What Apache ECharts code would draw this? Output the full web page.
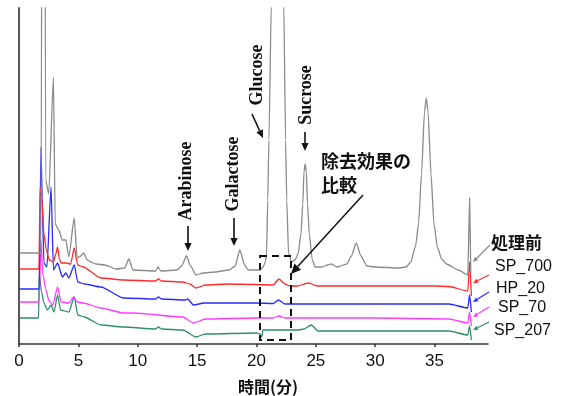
<!DOCTYPE html>
<html>
<head>
<meta charset="utf-8">
<script src="https://cdn.jsdelivr.net/npm/echarts@6/dist/echarts.min.js"></script>
<style>
html,body{margin:0;padding:0;background:#fff;}
#chart{width:562px;height:396px;}
</style>
</head>
<body>
<div id="chart"></div>
<script>
// ---- data: retention time (min), detector signal (arbitrary units) ----
const seriesNames = ['処理前', 'SP_700', 'HP_20', 'SP_70', 'SP_207'];
const seriesColors = ['#8a8a8a', '#ff2a2a', '#2a2aff', '#ff3cff', '#2f8f6a'];

const untreated = [
  [0,91],[1.68,91],[1.85,91],[2.05,1200],[2.25,164],[2.5,150],[2.9,267],[3.05,120],[3.35,114],
  [3.65,104],[3.95,104],[4.2,87],[4.65,126],[4.9,86],[5.2,88],[5.45,91],[5.75,84],[6.05,82],
  [6.5,80],[7.2,79],[8.2,75],[8.9,76],[9.25,85],[9.6,74],[11.5,73],[11.7,77],[11.95,73],
  [13.3,74],[13.7,78],[14.1,88],[14.45,78],[14.9,69],[15.5,71],[16.5,72],[17.7,74],[18.2,78],
  [18.6,94],[19.0,79],[19.3,74],[20.3,74],[20.55,77],[20.75,82],[20.85,90],[20.95,144],
  [21.05,204],[21.25,340],[21.8,1700],[22.3,340],[22.45,204],[22.55,144],[22.7,91],[22.95,82],
  [23.25,84],[23.5,90],[23.75,110],[23.9,140],[24.0,172],[24.1,180],[24.2,172],[24.3,140],[24.45,110],[24.7,84],
  [24.95,77],[25.5,77],[26.0,79],[26.3,80],[26.8,77],[27.6,80],[28.0,88],[28.4,101],[28.8,88],
  [29.3,78],[30,77],[32,76],[32.6,77],[33.0,82],[33.4,98],[33.65,120],[33.9,170],[34.15,232],
  [34.3,246],[34.45,232],[34.7,170],[34.95,120],[35.25,96],[35.6,85],[36.0,80],[37.0,74],
  [37.8,69],[37.95,146],[38.05,70]
];
const sp700 = [
  [0,75],[1.68,75],[1.78,156],[1.9,150],[2.1,110],[2.3,94],[2.55,84],[2.9,82],[3.1,90],[3.25,97],
  [3.4,85],[3.55,81],[3.95,81],[4.35,80],[4.65,96],[4.95,79],[5.4,77],[6.9,66],[8.8,64],[11.5,63],
  [11.75,65],[12.0,63],[13.8,62],[14.4,60],[14.9,56],[15.7,59],[17.6,60],[20.0,59.5],[21.4,59],
  [21.9,65],[22.4,60],[22.8,58],[23.4,58],[24.4,61],[25.1,58],[30,58],[35,58],[36.2,57.5],
  [37.8,53],[37.95,82],[38.1,48]
];
const hp20 = [
  [0,55],[1.7,55],[1.85,197],[1.95,147],[2.1,81],[2.35,77],[2.7,157],[2.9,74],[3.25,81],[3.65,67],
  [3.95,71],[4.2,66],[4.65,79],[4.95,62],[5.5,60],[6.9,57],[8.8,46],[11.5,45],[11.75,47],[12.0,45],
  [14.0,44],[14.2,45],[14.7,39],[15.6,41],[20.0,41],[21.4,40.5],[21.85,44],[22.4,40],[23,40],
  [30,40],[36.2,40],[37.8,36],[37.95,49],[38.1,32]
];
const sp70 = [
  [0,42],[1.7,42],[1.85,104],[2.0,70],[2.27,54],[2.5,44],[2.85,39],[3.25,57],[3.55,42],[4.2,41],
  [4.6,47],[4.9,42],[5.4,41],[6.9,36],[8.8,31],[9.6,31],[13.8,27],[14.7,21],[15.7,25],[20.0,26],
  [21.4,26],[21.9,28],[22.4,26],[30,26],[36.2,25],[37.8,21],[37.95,32],[38.1,18]
];
const sp207 = [
  [0,26],[1.65,26],[1.7,71],[1.9,52],[2.1,41],[2.4,34],[2.7,39],[2.95,32],[3.25,49],[3.5,34],
  [4.2,32],[4.65,47],[4.95,29],[5.5,27],[6.9,19],[8.8,17],[11.5,15],[11.75,17],[12.0,15],[13.8,14],
  [14.9,7],[15.7,10],[20.0,11],[20.3,10],[20.45,7],[20.55,14],[23.5,14],[24.0,15],[24.6,19],
  [25.2,13],[30,13],[36.2,13],[37.8,9],[37.95,18],[38.1,4]
];
const seriesData = [untreated, sp700, hp20, sp70, sp207];

const xMin = 0, xMax = 39.5, xInterval = 5;
const yMin = 0, yMax = 336;

// ---- chart ----
const chart = echarts.init(document.getElementById('chart'), null, {renderer: 'canvas'});

function arrow(x1, y1, x2, y2, color, w, head) {
  const ang = Math.atan2(y2 - y1, x2 - x1);
  const hl = head, hw = head * 0.45;
  const bx = x2 - hl * Math.cos(ang), by = y2 - hl * Math.sin(ang);
  const px = -Math.sin(ang), py = Math.cos(ang);
  return [
    {type: 'line', shape: {x1: x1, y1: y1, x2: bx, y2: by}, style: {stroke: color, lineWidth: w}, z: 100},
    {type: 'polygon', shape: {points: [[x2, y2], [bx + px * hw, by + py * hw], [bx - px * hw, by - py * hw]]},
     style: {fill: color}, z: 100}
  ];
}
function vtext(text, x, y) {
  return {type: 'text', x: x, y: y, rotation: Math.PI / 2, z: 100,
    style: {text: text, font: 'bold 18px "Liberation Serif", serif', fill: '#111', align: 'center', verticalAlign: 'middle'}};
}
function htext(text, x, y, font, align) {
  return {type: 'text', x: x, y: y, z: 100,
    style: {text: text, font: font, fill: '#111', align: align || 'left', verticalAlign: 'middle'}};
}

const cjkBold = 'bold 17px "Noto Sans CJK JP", sans-serif';
const latin = '16px "Liberation Sans", Arial, sans-serif';

let graphics = [];
graphics.push(vtext('Arabinose', 186, 181));
graphics = graphics.concat(arrow(188, 226, 188, 251, '#111', 1.6, 8));
graphics.push(vtext('Galactose', 233, 174));
graphics = graphics.concat(arrow(234, 218, 234, 246, '#111', 1.6, 8));
graphics.push(vtext('Glucose', 257, 75));
graphics = graphics.concat(arrow(252, 114, 263, 138, '#111', 1.6, 8));
graphics.push(vtext('Sucrose', 306, 95));
graphics = graphics.concat(arrow(305, 132, 305, 151, '#111', 1.6, 8));
graphics.push(htext('除去効果の', 321, 161, 'bold 18px "Noto Sans CJK JP", sans-serif'));
graphics.push(htext('比較', 321, 185, 'bold 18px "Noto Sans CJK JP", sans-serif'));
graphics = graphics.concat(arrow(363, 195, 291, 274, '#111', 1.5, 10));
graphics.push({type: 'rect', shape: {x: 260, y: 256, width: 31, height: 84}, z: 100,
  style: {fill: null, stroke: '#111', lineWidth: 2, lineDash: [7, 5]}});
// right-side labels with leader lines
graphics.push(htext('処理前', 491, 243, cjkBold));
graphics.push(htext('SP_700', 495, 267, latin));
graphics.push(htext('HP_20', 496, 289, latin));
graphics.push(htext('SP_70', 498, 308, latin));
graphics.push(htext('SP_207', 494, 331, latin));
graphics = graphics.concat(arrow(490, 245, 473, 262, seriesColors[0], 1.2, 5));
graphics = graphics.concat(arrow(489, 275, 473, 283, seriesColors[1], 1.2, 5));
graphics = graphics.concat(arrow(489, 292, 473, 302, seriesColors[2], 1.2, 5));
graphics = graphics.concat(arrow(489, 307, 473, 317, seriesColors[3], 1.2, 5));
graphics = graphics.concat(arrow(489, 322, 473, 330, seriesColors[4], 1.2, 5));
// x-axis title
graphics.push(htext('時間(分)', 268, 387, 'bold 16px "Noto Sans CJK JP", sans-serif', 'center'));

const option = {
  animation: false,
  backgroundColor: '#fff',
  grid: {left: 19, right: 74, top: 8, bottom: 52, containLabel: false},
  xAxis: {
    type: 'value', min: xMin, max: xMax, interval: xInterval,
    axisLine: {show: true, onZero: false, lineStyle: {color: '#333', width: 1.5}},
    axisTick: {show: true, length: 3, lineStyle: {color: '#333', width: 1.5}},
    axisLabel: {fontSize: 17, color: '#111', margin: 9, fontFamily: '"Liberation Sans", Arial, sans-serif',
      showMaxLabel: false},
    splitLine: {show: false}
  },
  yAxis: {
    type: 'value', min: yMin, max: yMax,
    axisLine: {show: true, lineStyle: {color: '#555', width: 2}},
    axisTick: {show: false}, axisLabel: {show: false}, splitLine: {show: false}
  },
  series: seriesNames.map((n, i) => ({
    name: n, type: 'line', data: seriesData[i], showSymbol: false, symbol: 'none',
    smooth: 0.2, smoothMonotone: 'x',
    clip: true, lineStyle: {color: seriesColors[i], width: 1.3}, z: 10 - i
  })),
  graphic: graphics
};
chart.setOption(option);
</script>
</body>
</html>
